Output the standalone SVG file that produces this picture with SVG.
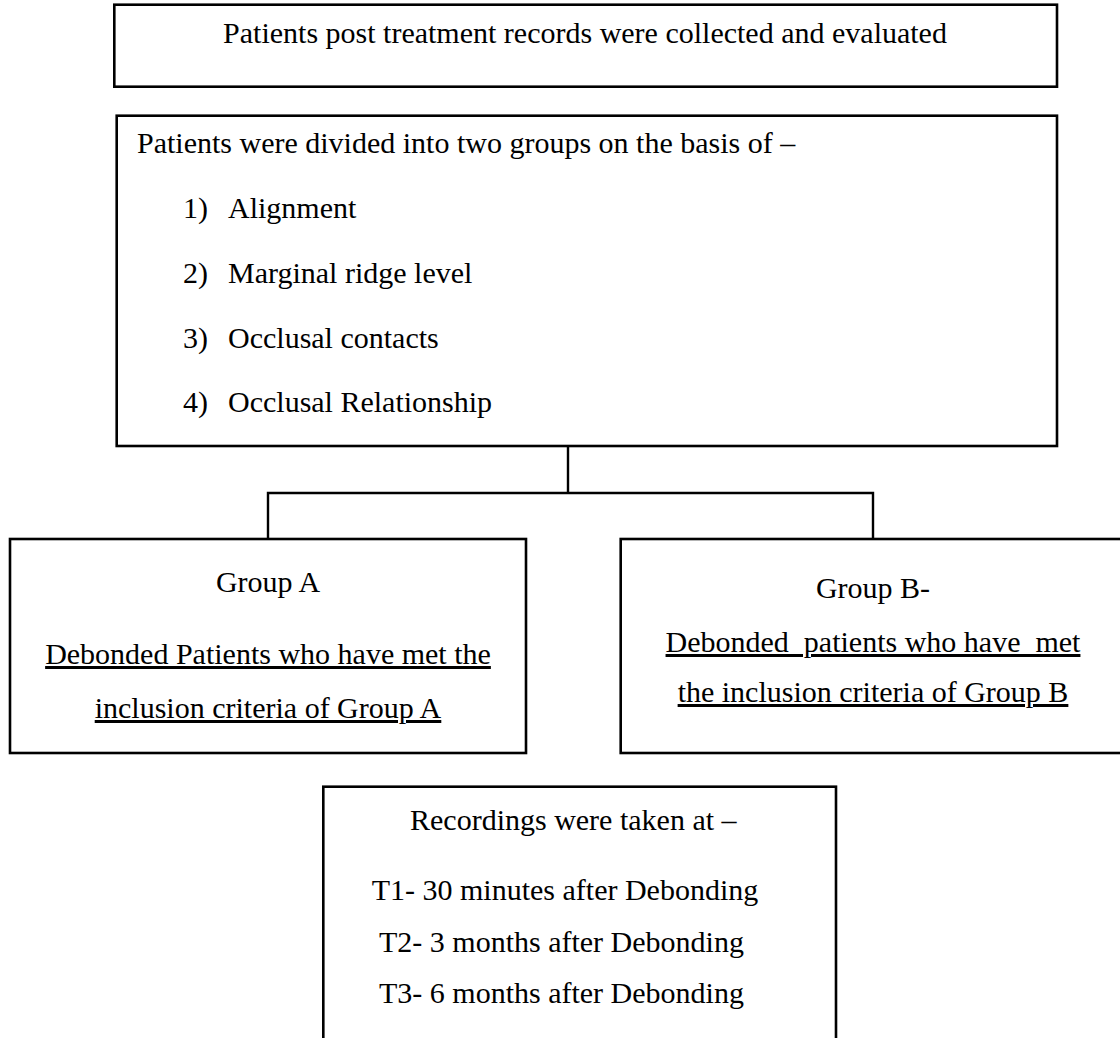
<svg xmlns="http://www.w3.org/2000/svg" width="1120" height="1038" viewBox="0 0 1120 1038">
<style>
.box{fill:#fff;stroke:#000;stroke-width:2.6}
.t{font-family:"Liberation Serif","Times New Roman",serif;font-size:30px;fill:#000}
.c{text-anchor:middle}
.u{text-decoration:underline}
.conn{fill:none;stroke:#000;stroke-width:2.4}
</style>
<rect width="1120" height="1038" fill="#fff"/>
<g id="node-records">
<rect class="box" x="114.3" y="4.7" width="942.7" height="82"/>
<text class="t c" x="585" y="43">Patients post treatment records were collected and evaluated</text>
</g>
<g id="node-division">
<rect class="box" x="116.7" y="115.7" width="940.3" height="330.3"/>
<text class="t" x="137" y="153">Patients were divided into two groups on the basis of –</text>
<text class="t" x="183" y="218">1)</text><text class="t" x="228" y="218">Alignment</text>
<text class="t" x="183" y="283">2)</text><text class="t" x="228" y="283">Marginal ridge level</text>
<text class="t" x="183" y="347.5">3)</text><text class="t" x="228" y="347.5">Occlusal contacts</text>
<text class="t" x="183" y="412">4)</text><text class="t" x="228" y="412">Occlusal Relationship</text>
</g>
<g id="connectors">
<path class="conn" d="M568,446 V493 M268,539 V493 H873 V539"/>
</g>
<g id="node-groupA">
<rect class="box" x="10" y="539" width="516" height="214"/>
<text class="t c" x="268" y="592">Group A</text>
<text class="t c u" x="268" y="664">Debonded Patients who have met the</text>
<text class="t c u" x="268" y="718">inclusion criteria of Group A</text>
</g>
<g id="node-groupB">
<rect class="box" x="620.7" y="539" width="520" height="214"/>
<text class="t c" x="873" y="598">Group B-</text>
<text class="t c u" x="873" y="652" xml:space="preserve" style="white-space:pre">Debonded  patients who have  met</text>
<text class="t c u" x="873" y="702">the inclusion criteria of Group B</text>
</g>
<g id="node-recordings">
<rect class="box" x="323.3" y="786.7" width="512.7" height="280"/>
<text class="t" x="410" y="830">Recordings were taken at –</text>
<text class="t" x="371.7" y="900">T1- 30 minutes after Debonding</text>
<text class="t" x="379" y="952">T2- 3 months after Debonding</text>
<text class="t" x="379" y="1003">T3- 6 months after Debonding</text>
</g>
</svg>
